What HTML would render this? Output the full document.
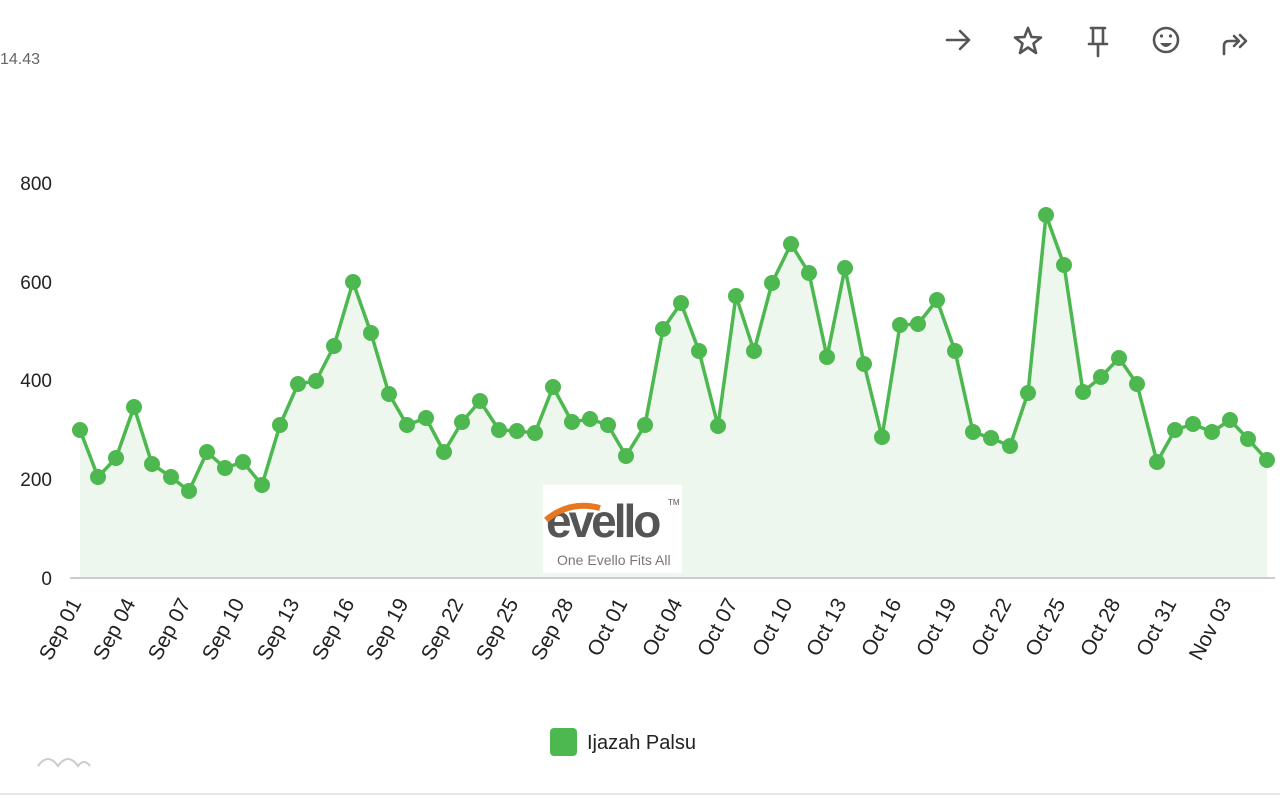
<!DOCTYPE html>
<html><head><meta charset="utf-8"><style>
html,body{margin:0;padding:0;background:#fff;width:1280px;height:800px;overflow:hidden;font-family:"Liberation Sans",sans-serif}
</style></head><body>
<svg id="s" width="1280" height="800" xmlns="http://www.w3.org/2000/svg" font-family="Liberation Sans, sans-serif">
<text x="0" y="64" font-size="16" fill="#666">14.43</text>
<g stroke="#555" stroke-width="2.6" fill="none" stroke-linecap="round" stroke-linejoin="round">
<path d="M947 40 H969 M960 31 L969 40 L960 49"/>
<path d="M1028 28 L1031.5 37 L1041 37.5 L1033.5 43.5 L1036 53 L1028 47.5 L1020 53 L1022.5 43.5 L1015 37.5 L1024.5 37 Z"/>
<path d="M1091 28 H1105 M1093 28 V43 M1103 28 V43 M1089 44 H1107 M1098 44 V56"/>
<circle cx="1166" cy="40" r="12"/>
<path d="M1224 54 V46 Q1224 41 1229 41 H1238 M1234 36 L1239 41 L1234 46 M1240 35 L1246 41 L1240 47"/>
</g>
<circle cx="1161.5" cy="36" r="1.6" fill="#555"/><circle cx="1170.5" cy="36" r="1.6" fill="#555"/>
<path d="M1160 43 H1172 Q1166 51 1160 43Z" fill="#555"/>
<g font-size="19" fill="#222" text-anchor="end">
<text x="52" y="190">800</text><text x="52" y="289">600</text><text x="52" y="387">400</text><text x="52" y="486">200</text><text x="52" y="585">0</text>
</g>
<path id="area" fill="#eef7ee"/>
<line x1="70" y1="578" x2="1275" y2="578" stroke="#ccc" stroke-width="2"/>
<polyline id="ln" fill="none" stroke="#4cb84f" stroke-width="3.5" stroke-linejoin="round"/>
<g id="pts" fill="#4cb84f"></g>
<g id="xl" font-size="21" fill="#222"></g>
<rect x="543" y="485" width="139" height="88" fill="#fff" opacity="0.95"/>
<text x="546" y="537" font-size="46" fill="#555" font-weight="bold" letter-spacing="-3">evello</text>
<path d="M546 520 Q570 500 600 508" stroke="#e87722" stroke-width="6" fill="none"/>
<text x="668" y="505" font-size="8" fill="#555">TM</text>
<text x="557" y="565" font-size="14" fill="#777">One Evello Fits All</text>
<rect x="550" y="728" width="27" height="28" rx="4" fill="#4cb84f"/>
<text x="587" y="749" font-size="20" fill="#222">Ijazah Palsu</text>
<path d="M38 766 Q48 752 58 766 Q68 752 78 766 Q84 758 90 766" stroke="#ccc" stroke-width="2" fill="none"/>
<line x1="0" y1="794" x2="1280" y2="794" stroke="#e6e6e6" stroke-width="2"/>
</svg>
<script>
var P=[[80,430],[98,477],[116,458],[134,407],[152,464],[171,477],[189,491],[207,452],[225,468],[243,462],[262,485],[280,425],[298,384],[316,381],[334,346],[353,282],[371,333],[389,394],[407,425],[426,418],[444,452],[462,422],[480,401],[499,430],[517,431],[535,433],[553,387],[572,422],[590,419],[608,425],[626,456],[645,425],[663,329],[681,303],[699,351],[718,426],[736,296],[754,351],[772,283],[791,244],[809,273],[827,357],[845,268],[864,364],[882,437],[900,325],[918,324],[937,300],[955,351],[973,432],[991,438],[1010,446],[1028,393],[1046,215],[1064,265],[1083,392],[1101,377],[1119,358],[1137,384],[1157,462],[1175,430],[1193,424],[1212,432],[1230,420],[1248,439],[1267,460]];
var ns="http://www.w3.org/2000/svg",s=P.map(p=>p.join(',')).join(' ');
document.getElementById('ln').setAttribute('points',s);
document.getElementById('area').setAttribute('d','M80 578 L'+s.split(' ').join(' L')+' L1267 578 Z');
var g=document.getElementById('pts');
P.forEach(p=>{var c=document.createElementNS(ns,'circle');c.setAttribute('cx',p[0]);c.setAttribute('cy',p[1]);c.setAttribute('r',8);g.appendChild(c);});
var L=["Sep 01","Sep 04","Sep 07","Sep 10","Sep 13","Sep 16","Sep 19","Sep 22","Sep 25","Sep 28","Oct 01","Oct 04","Oct 07","Oct 10","Oct 13","Oct 16","Oct 19","Oct 22","Oct 25","Oct 28","Oct 31","Nov 03"];
var xl=document.getElementById('xl');
L.forEach((t,i)=>{var x=P[i*3][0]+2,y=603;var e=document.createElementNS(ns,'text');e.setAttribute('x',x);e.setAttribute('y',y);e.setAttribute('text-anchor','end');e.setAttribute('transform','rotate(-62 '+x+' '+y+')');e.textContent=t;xl.appendChild(e);});
</script>
</body></html>
